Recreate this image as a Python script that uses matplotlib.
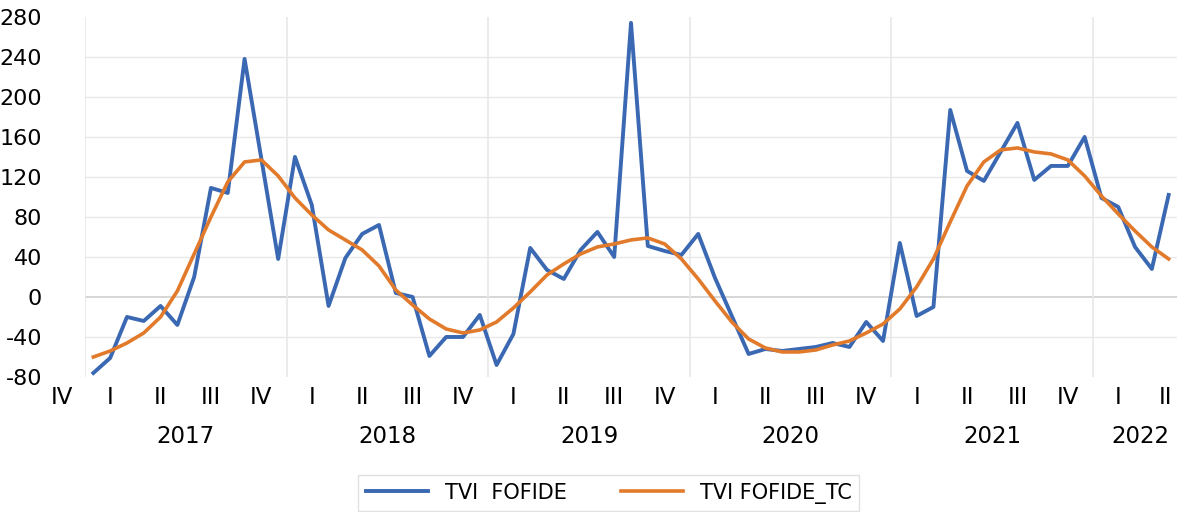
import numpy as np
import matplotlib
matplotlib.use('Agg')
import matplotlib.pyplot as plt
import matplotlib.transforms as mtransforms

plt.rc('font', family='DejaVu Sans')
plt.rcParams['axes.unicode_minus'] = False

# monthly data, Jan 2017 .. May 2022
tvi = [-76, -61, -20, -24, -9, -28, 20, 109, 104, 238, 138, 38,
       140, 92, -9, 39, 63, 72, 4, 0, -59, -40, -40, -18,
       -68, -37, 49, 27, 18, 47, 65, 40, 274, 51, 46, 42,
       63, 19, -19, -57, -52, -54, -52, -50, -46, -50, -25, -44,
       54, -19, -10, 187, 126, 116, 145, 174, 117, 131, 131, 160,
       99, 90, 50, 28, 102]
tvi_tc = [-60, -54, -46, -36, -20, 6, 43, 80, 115, 135, 137, 121,
          99, 82, 67, 57, 47, 31, 7, -8, -22, -32, -36, -33,
          -25, -11, 5, 22, 33, 43, 50, 53, 57, 59, 53, 38,
          18, -4, -25, -42, -51, -55, -55, -53, -48, -44, -36, -27,
          -12, 10, 38, 75, 111, 135, 147, 149, 145, 143, 137, 121,
          101, 83, 66, 50, 38]
quarter_labels = ['IV', 'I', 'II', 'III', 'IV', 'I', 'II', 'III', 'IV',
                  'I', 'II', 'III', 'IV', 'I', 'II', 'III', 'IV',
                  'I', 'II', 'III', 'IV', 'I', 'II']
quarter_pos = [-1.9, 1, 4, 7, 10, 13, 16, 19, 22, 25, 28, 31, 34, 37, 40, 43, 46,
               49, 52, 55, 58, 61, 63.8]
years = ['2017', '2018', '2019', '2020', '2021', '2022']
year_pos = [5.5, 17.5, 29.5, 41.5, 53.5, 62.3]

x = np.arange(len(tvi))
blue = '#3a68b2'
orange = '#e27a2c'

fig = plt.figure(figsize=(11.8, 5.12), dpi=100)
ax = fig.add_axes([0.072, 0.2637, 0.9255, 0.7033])

for y in range(-40, 241, 40):
    ax.axhline(y, color='#d0d0d0' if y == 0 else '#e8e8e8', lw=1.2 if y == 0 else 1.0, zorder=0)
for xv in [-0.5, 11.5, 23.5, 35.5, 47.5, 59.5]:
    ax.axvline(xv, color='#e8e8e8', lw=1.2, zorder=0)

ax.plot(x, tvi, color=blue, lw=2.8, label='TVI  FOFIDE')
ax.plot(x, tvi_tc, color=orange, lw=2.6, label='TVI FOFIDE_TC')

ax.set_xlim(-0.5, 64.5)
ax.set_ylim(-80, 280)
ax.set_yticks(range(-80, 281, 40))
ax.tick_params(axis='y', length=0, labelsize=16, pad=31)
ax.set_xticks([])
for s in ax.spines.values():
    s.set_visible(False)

trans = mtransforms.blended_transform_factory(ax.transData, ax.transAxes)
for lab, p in zip(quarter_labels, quarter_pos):
    ax.text(p, -0.058, lab, transform=trans, ha='center', va='center', fontsize=16.5, clip_on=False)
for lab, p in zip(years, year_pos):
    ax.text(p, -0.165, lab, transform=trans, ha='center', va='center', fontsize=16.5, clip_on=False)

leg = fig.legend(loc='center', bbox_to_anchor=(0.516, 0.037), ncol=2, fontsize=15,
                 frameon=True, fancybox=False, edgecolor='#d9d9d9', handlelength=3.0,
                 columnspacing=2.6, borderpad=0.35)
leg.get_frame().set_linewidth(1.0)

fig.savefig('out.png', dpi=100)
